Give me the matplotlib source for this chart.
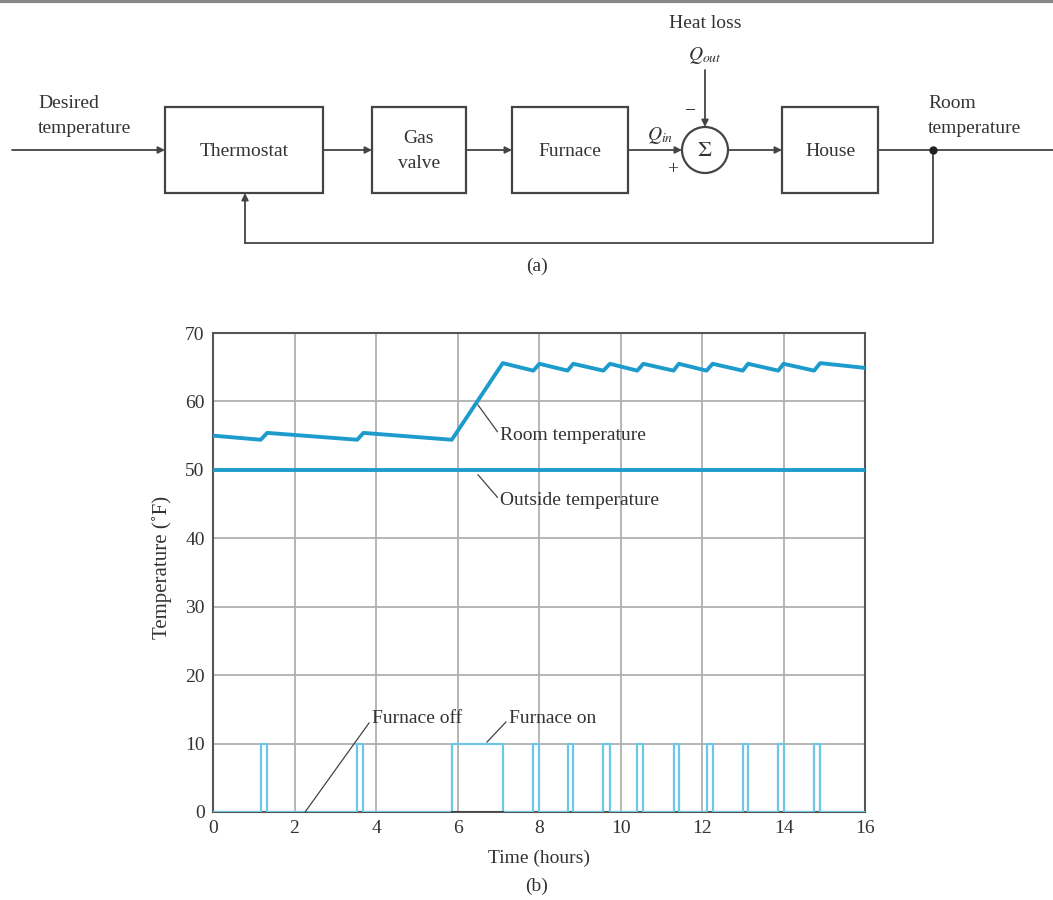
import matplotlib.pyplot as plt
from matplotlib.patches import Rectangle, Circle

plt.rcParams['font.family'] = ['Liberation Serif', 'DejaVu Serif']
plt.rcParams['mathtext.fontset'] = 'stix'

# furnace on / off switching times (hours)
pulse_on = [1.17, 3.54, 5.86, 7.86, 8.70, 9.58, 10.41, 11.30, 12.11, 13.00, 13.87, 14.75]
pulse_off = [1.33, 3.69, 7.11, 8.01, 8.84, 9.74, 10.56, 11.43, 12.26, 13.13, 14.00, 14.90]
furnace_level = 10

# room temperature (deg F) at the switching times
room_t = [0, 1.17, 1.33, 3.54, 3.69, 5.86, 7.11, 7.86, 8.01, 8.70, 8.84, 9.58, 9.74,
          10.41, 10.56, 11.30, 11.43, 12.11, 12.26, 13.00, 13.13, 13.87, 14.00,
          14.75, 14.90, 16]
room_T = [55.0, 54.4, 55.4, 54.4, 55.4, 54.4, 65.6, 64.5, 65.5, 64.5, 65.5, 64.5, 65.5,
          64.5, 65.5, 64.5, 65.5, 64.5, 65.5, 64.5, 65.5, 64.5, 65.5,
          64.5, 65.6, 64.9]

outside_T = 50
x_ticks = list(range(0, 17, 2))
y_ticks = list(range(0, 71, 10))

fs = 14
tc = '#333333'

fig = plt.figure(figsize=(10.53, 9), dpi=100)

# ---- (a) block diagram, drawn in pixel coordinates ----
d = fig.add_axes([0, 0, 1, 1])
d.set_xlim(0, 1053)
d.set_ylim(900, 0)
d.axis('off')

lc = '#444444'
d.plot([0, 1053], [1, 1], color='#888888', lw=3)

blocks = [('Thermostat', 165, 323), ('Gas\nvalve', 372, 466),
          ('Furnace', 512, 628), ('House', 782, 878)]
for name, x0, x1 in blocks:
    d.add_patch(Rectangle((x0, 107), x1 - x0, 86, fill=False, ec=lc, lw=1.6))
    d.text((x0 + x1) / 2, 151, name, ha='center', va='center', fontsize=fs,
           color=tc, linespacing=1.6)

d.add_patch(Circle((705, 150), 23, fill=False, ec=lc, lw=1.6))
d.text(705, 151, r'$\Sigma$', ha='center', va='center', fontsize=fs + 2, color=tc)

arrow = dict(arrowstyle='-|>', color=lc, lw=1.3, mutation_scale=10, shrinkA=0, shrinkB=0)
for x0, x1 in [(12, 165), (323, 372), (466, 512), (628, 682), (728, 782)]:
    d.annotate('', xy=(x1, 150), xytext=(x0, 150), arrowprops=arrow)
d.plot([878, 1053], [150, 150], color=lc, lw=1.3)
d.annotate('', xy=(705, 127), xytext=(705, 70), arrowprops=arrow)
d.plot([933, 933, 245], [150, 243, 243], color=lc, lw=1.3)
d.annotate('', xy=(245, 193), xytext=(245, 243), arrowprops=arrow)
d.plot(933, 150, 'o', color='#222222', ms=5)

d.text(38, 116, 'Desired\ntemperature', ha='left', va='center', fontsize=fs,
       color=tc, linespacing=1.6)
d.text(928, 116, 'Room\ntemperature', ha='left', va='center', fontsize=fs,
       color=tc, linespacing=1.6)
d.text(705, 24, 'Heat loss', ha='center', va='center', fontsize=fs, color=tc)
d.text(705, 55, r'$Q_{out}$', ha='center', va='center', fontsize=fs, color=tc)
d.text(660, 136, r'$Q_{in}$', ha='center', va='center', fontsize=fs, color=tc)
d.text(690, 112, '\u2212', ha='center', va='center', fontsize=fs, color=tc)
d.text(673, 170, '+', ha='center', va='center', fontsize=fs, color=tc)
d.text(537, 266, '(a)', ha='center', va='center', fontsize=fs, color=tc)
d.text(537, 886, '(b)', ha='center', va='center', fontsize=fs, color=tc)

# ---- (b) temperature plot ----
ax = fig.add_axes([0.2023, 0.0978, 0.6192, 0.5322])

fx, fy = [0], [0]
for on, off in zip(pulse_on, pulse_off):
    fx += [on, on, off, off]
    fy += [0, furnace_level, furnace_level, 0]
fx.append(16)
fy.append(0)
ax.plot(fx, fy, color='#6cc8e6', lw=1.6, zorder=3)
ax.plot([pulse_on[2], pulse_off[2]], [0, 0], color='#444444', lw=1.4, zorder=4)

ax.plot([0, 16], [outside_T, outside_T], color='#1d9ccc', lw=2.8, zorder=3)
ax.plot(room_t, room_T, color='#1d9ccc', lw=2.8, zorder=3)

ann = dict(arrowstyle='-', color='#444444', lw=0.9, shrinkA=0, shrinkB=0, relpos=(0, 0.5))
ax.annotate('Room temperature', xy=(6.5, 59.5), xytext=(7.05, 55), fontsize=fs,
            va='center', color=tc, arrowprops=ann)
ax.annotate('Outside temperature', xy=(6.5, 49.3), xytext=(7.05, 45.5), fontsize=fs,
            va='center', color=tc, arrowprops=ann)
ax.annotate('Furnace off', xy=(2.26, 0), xytext=(3.9, 13.6), fontsize=fs,
            va='center', color=tc, arrowprops=ann)
ax.annotate('Furnace on', xy=(6.72, 10.2), xytext=(7.26, 13.6), fontsize=fs,
            va='center', color=tc, arrowprops=ann)

ax.set_xlim(0, 16)
ax.set_ylim(0, 70)
ax.set_xticks(x_ticks)
ax.set_yticks(y_ticks)
ax.tick_params(length=0, labelsize=fs, colors=tc, pad=6)
ax.grid(True, color='#b0b0b0', lw=1.3)
for s in ax.spines.values():
    s.set_color('#555555')
    s.set_linewidth(1.5)
ax.set_xlabel('Time (hours)', fontsize=fs, color=tc, va='center')
ax.xaxis.set_label_coords(0.5, -0.096)
ax.set_ylabel('Temperature (\u02daF)', fontsize=fs + 1, color=tc, va='center')
ax.yaxis.set_label_coords(-0.078, 0.51)

plt.savefig('out.png', dpi=100)
